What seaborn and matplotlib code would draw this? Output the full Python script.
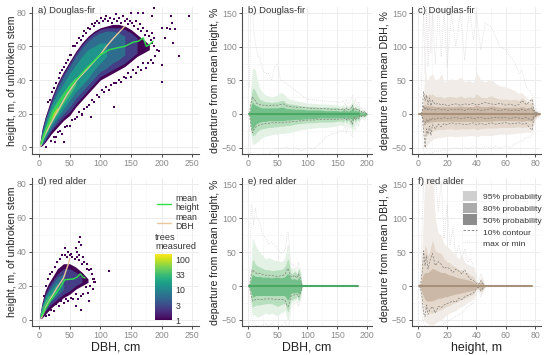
import matplotlib
matplotlib.use("Agg")
import matplotlib.pyplot as plt
from matplotlib.cm import ScalarMappable
from matplotlib.colors import LogNorm
from matplotlib.lines import Line2D
from matplotlib.patches import Patch
from matplotlib.ticker import MultipleLocator, FixedLocator, NullLocator
import seaborn as sns

# ---------- density panels: envelope of each count level ----------
a_x = [2, 5, 10, 20, 30, 40, 50, 60, 70, 80, 90, 100, 110, 120, 130, 140, 150, 160, 170, 180]
a_hi1 = [4, 11, 18, 29, 38, 45, 51, 57, 62, 66, 69, 71, 72, 73, 73, 72, 70, 67, 64, 61]
a_lo1 = [0.5, 1, 3, 8, 12, 16, 19, 24, 28, 32, 36, 40, 42, 44, 46, 48, 51, 54, 56, 58]
a_hi3 = [3.5, 10, 17, 28, 37, 44, 50, 56, 61, 65, 68, 70, 71, 71, 71, 70, 68, 65]
a_lo3 = [1, 1.5, 4, 10, 14, 18, 21, 26, 30, 34, 38, 42, 44, 46, 48, 50, 53, 56]
a_hi8 = [3, 9, 16, 26, 35, 42, 48, 54, 59, 63, 66, 68, 69, 69, 68, 66]
a_lo8 = [1, 2, 5, 11, 16, 20, 24, 29, 33, 37, 41, 45, 47, 50, 52, 55]
a_hi20 = [3, 8, 14, 25, 32, 38, 44, 49, 54, 58, 60, 62, 62]
a_lo20 = [1, 2, 6, 13, 18, 23, 28, 33, 37, 41, 46, 50, 54]
a_hi50 = [3, 7, 12, 22, 28, 33, 38, 42]
a_lo50 = [1, 3, 7, 15, 20, 26, 31, 37]
a_hi100 = [2.5, 6, 11, 19, 24]
a_lo100 = [1.5, 4, 9, 17, 22]
a_out_x = [200, 215, 217, 245, 208, 213, 205, 222, 218, 228, 200, 201, 195, 187, 185, 150, 162, 170, 122, 85,
           70, 40, 26, 15, 18, 22, 25, 28, 32, 35, 38, 41, 44, 47, 50, 53, 56, 59, 62, 65, 68, 71, 74, 77, 80, 83, 86,
           89, 92, 95, 98, 101, 104, 107, 110, 113, 116, 119, 122, 125, 128, 131, 134, 137, 140, 143, 146, 149, 152,
           155, 158, 161, 164, 167, 170, 173, 176, 179, 182, 185, 188, 12, 20, 24, 28, 31, 35, 38, 42, 46, 50, 54, 58,
           62, 66, 70, 74, 78, 82, 86, 90, 94, 98, 102, 106, 110, 114, 118, 122, 126, 130, 134, 138, 142, 146, 150,
           154, 158, 162, 166, 170, 174, 178, 182, 186, 190, 192, 188, 184]
a_out_y = [71, 78, 74, 78, 71, 70, 65, 70, 62, 54, 49, 39, 57, 83, 78, 80, 80, 80, 24, 18,
           19, 3, 3, 27, 28, 33, 35, 38, 41, 44, 46, 48, 50, 52, 55, 55, 60, 60, 62, 65, 64, 66, 69, 68, 71, 70, 73,
           72, 74, 75, 74, 77, 75, 76, 78, 75, 77, 74, 76, 79, 75, 77, 74, 78, 75, 76, 73, 75, 74,
           72, 75, 70, 73, 69, 71, 67, 69, 66, 64, 62, 60, 0.5, 4, 6, 6, 9, 10, 8, 12, 13, 13, 16, 17,
           18, 21, 20, 23, 24, 25, 28, 27, 31, 30, 34, 33, 36, 34, 37, 38, 38, 40, 39, 42, 41, 44, 42,
           46, 44, 48, 46, 50, 47, 50, 52, 50, 54, 58, 65, 68]
a_mh_x = [3, 10, 25, 50, 75, 100, 115, 127, 140, 154, 162, 170, 175, 180, 186]
a_mh_y = [2, 9, 22, 36, 46, 55, 58, 59, 60, 62.5, 63, 65, 60, 61, 63]
a_md_x = [3, 6, 28, 45, 62, 80, 100, 110, 122, 135, 140]
a_md_y = [1, 5, 20, 31, 40, 47, 55, 60, 65, 70, 72]

d_x = [2, 5, 10, 15, 20, 30, 40, 50, 60, 70, 80]
d_hi1 = [4, 10, 17, 21, 24, 30, 33, 33, 31, 28, 24]
d_lo1 = [0.5, 1, 3, 5, 7, 10, 13, 15, 18, 20, 22]
d_hi3 = [3.5, 9, 15, 19, 22, 27, 30, 30, 28, 25]
d_lo3 = [1, 2, 5, 7, 9, 12, 15, 17, 20, 22]
d_hi8 = [3, 8, 14, 17, 20, 25, 27]
d_lo8 = [1, 2.5, 6, 9, 11, 14, 18]
d_hi20 = [3, 8, 13, 16, 18, 22]
d_lo20 = [1, 3, 7, 10, 12, 16]
d_hi50 = [3, 7, 11, 14, 15]
d_lo50 = [1, 4, 8, 11, 13]
d_out_x = [114, 67, 66, 69, 42, 60, 62, 65, 48, 52, 72, 78, 85, 88, 82, 68, 60, 90, 8, 12, 15, 18, 22, 26, 30, 34, 38,
           42, 46, 50, 54, 58, 62, 66, 70, 74, 78, 82, 86, 90, 92, 88, 84, 80, 76, 72, 68, 64, 60, 56, 52, 48, 44, 40,
           36, 32, 28, 24, 20, 16, 12]
d_out_y = [28.5, 49, 46, 44, 42.5, 42, 40, 38, 40, 39, 37, 33, 30, 24, 11, 6, 8, 22, 14, 20, 24, 27, 28, 31, 34, 36, 38,
           38, 37, 38, 37, 36, 37, 35, 33, 34, 30, 29, 27, 24, 22, 18, 20, 16, 19, 15, 14, 12, 15, 12, 13, 11, 12, 10,
           11, 8, 9, 5, 6, 3, 2]
d_mh_x = [4, 18, 34, 42, 56, 62, 67, 72, 75]
d_mh_y = [2, 11, 18.6, 23.5, 24, 25, 27, 25, 24.5]
d_md_x = [4, 12, 20, 28, 40, 48, 50]
d_md_y = [1, 8, 13, 18, 24.5, 33, 36]

# ---------- departure panels ----------
b_x = [3, 5, 8, 10, 13, 15, 18, 20, 25, 30, 35, 40, 45, 50, 55, 60, 65, 70, 80, 90, 100, 110, 120, 130, 140, 150,
       155, 160, 163, 165, 168, 170, 173, 175, 178, 180, 183, 186, 188, 190, 193, 195, 198, 200]
b_hi95 = [5, 35, 68, 68, 65, 55, 45, 38, 32, 28, 27, 25, 27, 28, 32, 30, 25, 22, 20, 18, 16, 16, 15, 15, 14, 14,
          12, 14, 10, 15, 11, 13, 16, 22, 10, 16, 12, 14, 6, 8, 3, 8, 3, 2]
b_lo95 = [-5, -30, -45, -45, -44, -42, -40, -38, -35, -33, -32, -31, -30, -30, -29, -29, -28, -28, -25, -23, -22, -21,
          -20, -20, -19, -18, -16, -18, -12, -20, -14, -18, -22, -30, -10, -20, -10, -14, -5, -8, -3, -8, -3, -2]
b_hi80 = [4, 20, 38, 38, 34, 30, 25, 22, 20, 18, 18, 17, 18, 18, 20, 20, 16, 15, 14, 12, 11, 11, 10, 10, 10, 10,
          8, 10, 7, 11, 8, 9, 11, 16, 7, 11, 8, 9, 4, 6, 2, 5, 2, 1]
b_lo80 = [-4, -22, -32, -32, -30, -27, -25, -23, -22, -21, -20, -20, -19, -19, -18, -18, -17, -17, -15, -14, -13, -13,
          -12, -12, -12, -11, -10, -12, -8, -13, -9, -12, -15, -20, -7, -13, -7, -10, -3, -5, -2, -5, -2, -1]
b_hi50 = [2, 10, 18, 15, 13, 12, 11, 10, 9, 9, 9, 9, 9, 9, 10, 10, 8, 8, 7, 7, 6, 6, 6, 5, 5, 5,
          4, 6, 4, 6, 4, 5, 6, 10, 4, 6, 4, 5, 2, 3, 1, 3, 1, 1]
b_lo50 = [-2, -14, -25, -20, -16, -14, -13, -12, -11, -11, -10, -10, -10, -10, -10, -10, -9, -9, -8, -8, -7, -7,
          -6, -6, -6, -6, -5, -6, -4, -7, -5, -6, -7, -10, -4, -7, -4, -5, -2, -3, -1, -3, -1, -1]
b_c_hi = [1, 14, 26, 22, 20, 16, 15, 14, 13, 13, 12, 13, 13, 13, 14, 15, 12, 11, 10, 10, 9, 8, 8, 8, 7, 7,
          6, 8, 5, 9, 6, 7, 9, 13, 5, 9, 6, 7, 3, 4, 1, 4, 1, 0]
b_c_lo = [-1, -16, -28, -24, -20, -18, -17, -16, -15, -14, -14, -13, -13, -13, -13, -13, -12, -12, -11, -10, -9, -9,
          -8, -8, -8, -8, -7, -8, -6, -9, -6, -8, -10, -15, -5, -9, -5, -7, -2, -4, -1, -4, -1, 0]
b_max = [40, 150, 160, 125, 105, 95, 85, 85, 65, 60, 60, 50, 70, 75, 50, 48, 45, 42, 35, 28, 22, 21, 20, 19, 18, 18,
         17, 20, 12, 22, 15, 17, 22, 28, 13, 22, 14, 18, 7, 10, 4, 9, 4, 3]
b_min = [-20, -60, -65, -65, -65, -65, -65, -65, -62, -60, -60, -55, -55, -50, -52, -50, -48, -52, -50, -55, -50, -52,
         -45, -35, -30, -28, -24, -26, -16, -28, -18, -24, -30, -34, -14, -24, -13, -18, -7, -10, -4, -10, -4, -3]

c_x = [2, 3, 4, 5, 6, 7, 8, 9, 10, 12, 14, 16, 18, 20, 23, 26, 29, 32, 35, 38, 40, 43, 46, 50, 53, 56, 60, 63, 66,
       69, 71, 74, 76, 78, 79, 81, 83]
c_hi95 = [2, 8, 30, 72, 52, 50, 56, 58, 60, 50, 52, 60, 48, 50, 52, 50, 55, 48, 50, 47, 62, 50, 48, 52, 45, 42, 40, 38,
          35, 30, 32, 24, 22, 25, 10, 5, 2]
c_lo95 = [-2, -10, -35, -52, -48, -45, -42, -40, -38, -36, -35, -35, -34, -33, -33, -34, -33, -33, -32, -32, -34, -32,
          -32, -32, -31, -30, -30, -30, -29, -28, -28, -27, -27, -26, -15, -6, -2]
c_hi80 = [1, 6, 22, 32, 28, 28, 30, 28, 30, 26, 26, 26, 24, 26, 26, 24, 27, 24, 26, 24, 30, 25, 24, 27, 24, 22, 22, 21,
          22, 20, 24, 18, 16, 18, 8, 4, 1]
c_lo80 = [-1, -7, -24, -33, -32, -30, -28, -27, -26, -24, -23, -23, -23, -22, -22, -23, -22, -22, -22, -21, -23, -22,
          -21, -21, -21, -20, -20, -20, -20, -19, -20, -19, -19, -18, -11, -4, -1]
c_hi50 = [1, 3, 12, 14, 12, 13, 12, 12, 12, 11, 11, 11, 11, 11, 11, 11, 12, 11, 11, 11, 13, 11, 11, 12, 11, 10, 10, 10,
          10, 10, 11, 9, 9, 10, 5, 2, 1]
c_lo50 = [-1, -3, -12, -14, -13, -13, -12, -12, -12, -11, -11, -11, -11, -11, -11, -11, -11, -11, -11, -11, -12, -11,
          -11, -11, -10, -10, -10, -10, -10, -10, -11, -10, -10, -10, -6, -2, -1]
c_c1_hi = [0, 4, 33, 20, 28, 14, 24, 12, 20, 14, 16, 13, 15, 12, 14, 15, 13, 15, 14, 16, 13, 15, 17, 15, 14, 16, 13, 15,
           12, 14, 20, 14, 18, 22, 6, 2, 0]
c_c1_lo = [0, -4, -25, -50, -22, -30, -18, -32, -16, -22, -15, -19, -14, -16, -13, -15, -14, -16, -15, -13, -16, -14,
           -16, -13, -15, -14, -13, -15, -14, -13, -15, -14, -20, -24, -6, -2, 0]
c_c2_hi = [0, 2, 12, 6, 10, 5, 8, 6, 7, 6, 8, 6, 7, 5, 7, 6, 7, 5, 8, 6, 7, 5, 6, 8, 6, 5, 7, 5, 6, 5, 7, 5, 8, 9, 3, 1, 0]
c_c2_lo = [0, -2, -10, -16, -8, -12, -7, -10, -6, -8, -6, -7, -5, -7, -6, -5, -7, -6, -5, -7, -6, -5, -7, -6, -5, -6,
           -5, -7, -5, -6, -7, -5, -8, -9, -3, -1, 0]
c_max = [10, 80, 150, 60, 160, 70, 155, 90, 150, 75, 160, 85, 155, 70, 150, 100, 150, 80, 158, 110, 150, 95, 135, 130,
         115, 100, 95, 85, 78, 60, 65, 40, 35, 30, 15, 8, 3]
c_min = [-8, -30, -55, -60, -60, -60, -58, -60, -58, -55, -55, -55, -52, -55, -52, -50, -52, -50, -52, -48, -50, -52,
         -48, -52, -48, -50, -48, -50, -45, -42, -40, -35, -35, -32, -16, -7, -3]

e_x = [2, 4, 6, 8, 10, 13, 16, 20, 25, 30, 35, 40, 45, 50, 55, 60, 63, 66, 68, 70, 72, 75, 78, 80, 83, 85, 87, 89, 91]
e_hi95 = [3, 12, 40, 70, 68, 60, 55, 50, 45, 40, 42, 40, 38, 38, 36, 38, 45, 60, 62, 45, 28, 25, 28, 25, 22, 30, 25, 18, 2]
e_lo95 = [-3, -10, -32, -45, -42, -44, -46, -45, -42, -40, -42, -40, -42, -44, -40, -38, -36, -50, -50, -40, -25, -24,
          -22, -22, -18, -25, -22, -15, -2]
e_hi80 = [2, 8, 25, 38, 38, 32, 30, 28, 26, 24, 24, 23, 23, 24, 24, 26, 30, 38, 40, 30, 20, 18, 22, 20, 18, 26, 22, 12, 1]
e_lo80 = [-2, -8, -22, -32, -30, -28, -28, -28, -27, -26, -26, -26, -28, -30, -28, -26, -26, -36, -38, -30, -20, -20,
          -18, -18, -15, -22, -18, -10, -1]
e_hi50 = [1, 4, 12, 17, 16, 14, 14, 14, 13, 13, 13, 12, 13, 13, 12, 13, 14, 18, 18, 15, 11, 10, 11, 10, 9, 13, 10, 6, 1]
e_lo50 = [-1, -4, -10, -16, -16, -14, -14, -14, -14, -14, -14, -14, -14, -14, -14, -14, -15, -20, -20, -16, -11, -10,
          -10, -10, -9, -12, -10, -6, -1]
e_c_hi = [0, 6, 18, 24, 22, 20, 18, 19, 17, 16, 16, 15, 15, 14, 15, 16, 18, 24, 26, 20, 14, 13, 16, 14, 12, 18, 14, 8, 0]
e_c_lo = [0, -6, -14, -22, -22, -20, -19, -20, -20, -19, -19, -19, -20, -20, -20, -20, -22, -30, -30, -24, -15, -14,
          -13, -13, -12, -16, -14, -8, 0]
e_max = [8, 30, 120, 115, 90, 115, 100, 95, 75, 72, 62, 65, 60, 55, 48, 50, 55, 78, 80, 55, 35, 30, 32, 30, 25, 35, 28, 20, 3]
e_min = [-6, -20, -45, -50, -55, -60, -58, -60, -58, -55, -60, -55, -60, -65, -60, -55, -52, -65, -65, -52, -30, -28,
         -26, -26, -22, -30, -25, -18, -3]
e_line_x = [2, 185]

f_x = [1, 2, 3, 4, 5, 6, 7, 8, 10, 12, 14, 16, 18, 20, 22, 24, 26, 28, 30, 32, 34, 36, 38, 40, 41, 42, 43, 44, 45, 46]
f_hi95 = [1, 8, 60, 110, 150, 160, 140, 155, 160, 100, 78, 75, 62, 58, 55, 50, 45, 40, 48, 35, 32, 30, 28, 10, 5, 8, 14, 11, 5, 1]
f_lo95 = [-1, -8, -35, -50, -52, -55, -55, -58, -58, -55, -52, -50, -46, -42, -40, -38, -36, -32, -30, -28, -24, -22, -18,
          -8, -5, -8, -13, -10, -4, -1]
f_hi80 = [1, 5, 30, 48, 60, 55, 45, 50, 68, 52, 50, 48, 40, 36, 34, 30, 28, 24, 24, 20, 20, 16, 14, 6, 4, 6, 10, 8, 3, 1]
f_lo80 = [-1, -5, -20, -30, -36, -38, -38, -40, -40, -38, -36, -35, -32, -30, -28, -26, -24, -22, -20, -18, -16, -14, -12,
          -5, -3, -5, -9, -7, -3, -1]
f_hi50 = [1, 3, 12, 18, 20, 20, 20, 22, 26, 24, 22, 20, 20, 18, 16, 15, 13, 12, 11, 10, 9, 8, 6, 3, 2, 3, 6, 4, 2, 0]
f_lo50 = [-1, -3, -10, -16, -20, -22, -22, -22, -22, -20, -18, -18, -16, -16, -14, -13, -12, -11, -10, -9, -8, -7, -6,
          -3, -2, -3, -5, -4, -2, 0]
f_c_hi = [0, 3, 20, 52, 30, 45, 25, 35, 48, 30, 36, 32, 26, 28, 25, 20, 25, 22, 18, 24, 15, 10, 8, 4, 2, 4, 8, 5, 2, 0]
f_c_lo = [0, -3, -18, -40, -45, -28, -42, -36, -30, -40, -30, -32, -28, -26, -24, -22, -24, -18, -20, -16, -14, -12, -10,
          -4, -2, -4, -7, -5, -2, 0]
f_max = [2, 15, 90, 160, 80, 170, 100, 170, 90, 165, 110, 155, 70, 120, 60, 85, 45, 60, 40, 55, 35, 40, 30, 14, 8, 10, 18, 14, 6, 1]
f_min = [-2, -12, -45, -55, -60, -60, -60, -60, -60, -60, -60, -58, -55, -52, -50, -48, -45, -42, -40, -36, -30, -28, -24,
         -10, -7, -10, -16, -12, -5, -1]
f_line_x = [1, 78]

count_ticks = [1, 3, 10, 33, 100]
density_levels = [1, 2.5, 6, 14, 33, 90]
titles = ["a) Douglas-fir", "b) Douglas-fir", "c) Douglas-fir", "d) red alder", "e) red alder", "f) red alder"]
greens = ["#e4f2e5", "#b7deBd", "#74c08a", "#4aa764"]
tans = ["#f1ece7", "#e4d8cc", "#cbb8a6", "#a8917b"]
LINE_H, LINE_D = "#2fe04a", "#e8c79a"

sns.set_theme(style="whitegrid")
plt.rcParams["font.family"] = ["Liberation Sans", "DejaVu Sans"]
W, H = 550, 355
fig = plt.figure(figsize=(W / 100, H / 100), dpi=100)


def add_axes(x0, x1, top, bottom):
    return fig.add_axes([x0 / W, 1 - bottom / H, (x1 - x0) / W, (bottom - top) / H])


def dress(ax, xlim, ylim, xmaj, ymaj, title, xlabel, ylabel, ypad=1.5):
    ax.set_xlim(*xlim)
    ax.set_ylim(*ylim)
    ax.xaxis.set_major_locator(MultipleLocator(xmaj))
    ax.yaxis.set_major_locator(MultipleLocator(ymaj))
    ax.xaxis.set_minor_locator(MultipleLocator(xmaj / 2))
    ax.yaxis.set_minor_locator(MultipleLocator(ymaj / 2))
    ax.grid(True, which="major", color="#ececec", lw=0.7)
    ax.grid(True, which="minor", color="#f4f4f4", lw=0.4)
    ax.set_axisbelow(True)
    for s in ("top", "right"):
        ax.spines[s].set_visible(False)
    for s in ("left", "bottom"):
        ax.spines[s].set_color("#4d4d4d")
        ax.spines[s].set_linewidth(0.8)
    ax.tick_params(which="major", length=2.2, width=0.7, color="#4d4d4d", labelsize=6.3,
                   labelcolor="#8a8a8a", pad=1.5, left=True, bottom=True)
    ax.tick_params(which="minor", length=0)
    ax.set_xlabel(xlabel, fontsize=8.9, color="#222222", labelpad=1.0)
    ax.set_ylabel(ylabel, fontsize=7.6, color="#222222", labelpad=ypad)
    width_px = ax.get_position().width * W
    ax.text(6.5 / width_px, 1.005, title, transform=ax.transAxes, fontsize=6.8, color="#333333", va="top", ha="left",
            zorder=9)


norm = LogNorm(1, 158)
cmap = plt.get_cmap("viridis")


def density(ax, x, hi_list, lo_list, out_x, out_y):
    for lev, hi, lo in zip(density_levels, hi_list, lo_list):
        ax.fill_between(x[:len(hi)], lo, hi, color=cmap(norm(lev)), lw=0, zorder=2)
    sns.scatterplot(x=out_x, y=out_y, ax=ax, marker="s", s=1.8, color=cmap(norm(1)), linewidth=0, legend=False, zorder=3)


def line(ax, x, y, color, lw, ls="-", z=6):
    sns.lineplot(x=x, y=y, ax=ax, color=color, lw=lw, ls=ls, estimator=None, sort=False, legend=False, zorder=z)


def departure(ax, x, hi95, lo95, hi80, lo80, hi50, lo50, cont, mx, mn, cols, line_x):
    line(ax, x, mx, "#d9d3d3", 0.55, ":", 2)
    line(ax, x, mn, "#d9d3d3", 0.55, ":", 2)
    ax.fill_between(x, lo95, hi95, color=cols[0], lw=0, zorder=3)
    ax.fill_between(x, lo80, hi80, color=cols[1], lw=0, zorder=3)
    ax.fill_between(x, lo50, hi50, color=cols[2], lw=0, zorder=3)
    for c in cont:
        line(ax, x, c, "#84807a", 0.5, (0, (3, 2)), 4)
    line(ax, line_x, [0, 0], cols[3], 1.5)


L = [(32, 199), (242, 372), (412, 541)]
T = [(6.7, 154), (178, 326.3)]
xl_h = (-11.4, 261)
xl_b = (-9.5, 208)
xl_c = (-3.9, 84)
yl_d = (-3.9, 83.5)
yl_p = (-59.5, 159.5)

ax = add_axes(*L[0], *T[0])
density(ax, a_x, [a_hi1, a_hi3, a_hi8, a_hi20, a_hi50, a_hi100], [a_lo1, a_lo3, a_lo8, a_lo20, a_lo50, a_lo100],
        a_out_x, a_out_y)
line(ax, a_md_x, a_md_y, LINE_D, 1.0)
line(ax, a_mh_x, a_mh_y, LINE_H, 1.0, z=7)
dress(ax, xl_h, yl_d, 50, 20, titles[0], "", "height, m, of unbroken stem", ypad=0)

ax = add_axes(*L[1], *T[0])
departure(ax, b_x, b_hi95, b_lo95, b_hi80, b_lo80, b_hi50, b_lo50, [b_c_hi, b_c_lo], b_max, b_min, greens, [2, 186])
dress(ax, xl_b, yl_p, 50, 50, titles[1], "", "departure from mean height, %")

ax = add_axes(*L[2], *T[0])
departure(ax, c_x, c_hi95, c_lo95, c_hi80, c_lo80, c_hi50, c_lo50, [c_c1_hi, c_c1_lo, c_c2_hi, c_c2_lo], c_max, c_min,
          tans, [1, 83])
dress(ax, xl_c, yl_p, 20, 50, titles[2], "", "departure from mean DBH, %")

ax = add_axes(*L[0], *T[1])
density(ax, d_x, [d_hi1, d_hi3, d_hi8, d_hi20, d_hi50], [d_lo1, d_lo3, d_lo8, d_lo20, d_lo50], d_out_x, d_out_y)
line(ax, d_md_x, d_md_y, LINE_D, 1.0)
line(ax, d_mh_x, d_mh_y, LINE_H, 1.0, z=7)
dress(ax, xl_h, yl_d, 50, 20, titles[3], "DBH, cm", "height, m, of unbroken stem", ypad=0)
leg = ax.legend(handles=[Line2D([], [], color=LINE_H, lw=1.0, label="mean\nheight"),
                         Line2D([], [], color=LINE_D, lw=1.0, label="mean\nDBH")],
                loc="upper left", bbox_to_anchor=(0.748, 0.89), frameon=False, fontsize=6.3, handlelength=1.6,
                handletextpad=0.55, labelspacing=0.15, borderpad=0, borderaxespad=0, labelcolor="#333333")
for t in leg.get_texts():
    t.set_linespacing(0.95)
fig.text(155 / W, 1 - 242 / H, "trees\nmeasured", fontsize=6.6, color="#333333", va="center", ha="left", linespacing=1.05)
cax = add_axes(155, 172, 254, 320)
cb = fig.colorbar(ScalarMappable(norm=norm, cmap=cmap), cax=cax)
cb.outline.set_visible(False)
cb.ax.yaxis.set_major_locator(FixedLocator(count_ticks))
cb.ax.yaxis.set_minor_locator(NullLocator())
cb.ax.set_yticklabels([str(v) for v in count_ticks])
cb.ax.tick_params(length=0, labelsize=6.3, labelcolor="#333333", pad=2.5)

ax = add_axes(*L[1], *T[1])
departure(ax, e_x, e_hi95, e_lo95, e_hi80, e_lo80, e_hi50, e_lo50, [e_c_hi, e_c_lo], e_max, e_min, greens, e_line_x)
dress(ax, xl_b, yl_p, 50, 50, titles[4], "DBH, cm", "departure from mean height, %")

ax = add_axes(*L[2], *T[1])
departure(ax, f_x, f_hi95, f_lo95, f_hi80, f_lo80, f_hi50, f_lo50, [f_c_hi, f_c_lo], f_max, f_min, tans, f_line_x)
dress(ax, xl_c, yl_p, 20, 50, titles[5], "height, m", "departure from mean DBH, %")
ax.legend(handles=[Patch(color="#cfcfcf", lw=0, label="95% probability"),
                   Patch(color="#ababab", lw=0, label="80% probability"),
                   Patch(color="#8c8c8c", lw=0, label="50% probability"),
                   Line2D([], [], color="#777777", lw=0.6, ls=(0, (3, 2)), label="10% contour"),
                   Line2D([], [], color="#cccccc", lw=0.5, ls=":", label="max or min")],
          loc="upper left", bbox_to_anchor=(0.395, 0.915), frameon=False, fontsize=6.1, handlelength=1.65,
          handleheight=1.6, handletextpad=0.7, labelspacing=0.12, borderpad=0, borderaxespad=0, labelcolor="#333333")

fig.savefig("out.png", dpi=100)
